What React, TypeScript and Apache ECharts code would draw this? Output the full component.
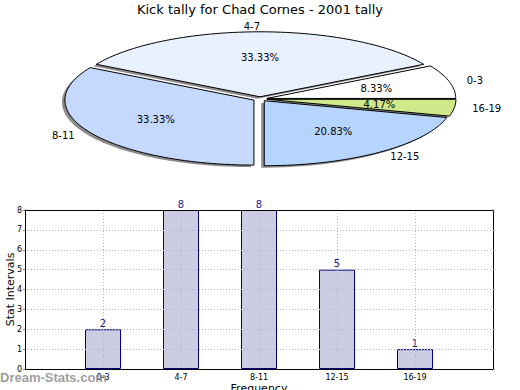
import React, { useEffect, useRef } from "react";
import * as echarts from "echarts";

const titleText = "Kick tally for Chad Cornes - 2001 tally";
const categories = ["0-3", "4-7", "8-11", "12-15", "16-19"];
const counts = [2, 8, 8, 5, 1];
const pieColors = ["#ffffff", "#eaf1fe", "#c5d8fe", "#b5d5fe", "#cfe98a"];
const yTicks = [0, 1, 2, 3, 4, 5, 6, 7, 8];
const xAxisName = "Frequency";
const yAxisName = "Stat Intervals";
const watermark = "Dream-Stats.com";

const FONT = "DejaVu Sans";
const PIE = { cx: 260, cy: 99, rx: 189, ry: 65, ex: 7, ey: 2.2, lx: 18, ly: 5 };

function sliceGeom(i: number) {
  const total = counts.reduce((a, b) => a + b, 0);
  let acc = 0;
  for (let k = 0; k < i; k++) acc += counts[k];
  const start = (acc / total) * Math.PI * 2;
  const end = ((acc + counts[i]) / total) * Math.PI * 2;
  const mid = (start + end) / 2;
  const ox = PIE.cx + PIE.ex * Math.cos(mid);
  const oy = PIE.cy - PIE.ey * Math.sin(mid);
  const pts: number[][] = [[ox, oy]];
  const n = Math.max(8, Math.ceil(((end - start) / (Math.PI * 2)) * 200));
  for (let s = 0; s <= n; s++) {
    const t = start + ((end - start) * s) / n;
    pts.push([ox + PIE.rx * Math.cos(t), oy - PIE.ry * Math.sin(t)]);
  }
  return { start, end, mid, ox, oy, pts, pct: (counts[i] / total) * 100 };
}

const gridLine = { color: "#b8b8b8", type: [1, 2], width: 1 };

export default function App() {
  const ref = useRef<HTMLDivElement>(null);
  useEffect(() => {
    if (!ref.current) return;
    const chart = echarts.init(ref.current, undefined, { renderer: "svg" });
    const option: any = {
      animation: false,
      textStyle: { fontFamily: FONT },
      title: {
        text: titleText,
        left: "center",
        top: 3,
        padding: 0,
        textStyle: { fontFamily: FONT, fontSize: 13, fontWeight: "normal", color: "#000" },
      },
      grid: {
        left: 25,
        right: 27,
        top: 210,
        bottom: 21,
        containLabel: false,
        outerBoundsMode: "none",
        show: false,
      },
      xAxis: [
        {
          type: "value",
          min: 0,
          max: categories.length + 1,
          interval: 1,
          z: 3,
          name: xAxisName,
          nameLocation: "middle",
          nameGap: 14,
          nameMoveOverlap: false,
          nameTextStyle: { fontFamily: FONT, fontSize: 11, color: "#000" },
          axisLine: { show: true, lineStyle: { color: "#000", width: 1 } },
          axisTick: { show: false },
          axisLabel: {
            fontSize: 8,
            color: "#000",
            margin: 4,
            formatter: (v: number) => categories[v - 1] ?? "",
          },
          splitLine: { show: true, showMinLine: false, showMaxLine: false, lineStyle: gridLine },
        },
        {
          type: "value",
          position: "top",
          min: 0,
          max: categories.length + 1,
          interval: 1,
          z: 4,
          axisLine: { show: true, onZero: false, lineStyle: { color: "#000", width: 1 } },
          axisTick: { show: false },
          axisLabel: { show: false },
          splitLine: { show: false },
        },
      ],
      yAxis: [
        {
          type: "value",
          min: yTicks[0],
          max: yTicks[yTicks.length - 1],
          interval: 1,
          z: 3,
          name: yAxisName,
          nameLocation: "middle",
          nameGap: 9,
          nameMoveOverlap: false,
          nameTextStyle: { fontFamily: FONT, fontSize: 11, color: "#000" },
          axisLine: { show: true, onZero: false, lineStyle: { color: "#000", width: 1 } },
          axisTick: { show: true, length: 2, lineStyle: { color: "#888" } },
          axisLabel: { fontSize: 8, color: "#000", margin: 3 },
          splitLine: { show: true, showMinLine: false, showMaxLine: false, lineStyle: gridLine },
        },
        {
          type: "value",
          position: "right",
          min: yTicks[0],
          max: yTicks[yTicks.length - 1],
          interval: 1,
          z: 4,
          axisLine: { show: true, onZero: false, lineStyle: { color: "#000", width: 1 } },
          axisTick: { show: true, length: 2, lineStyle: { color: "#aaa" } },
          axisLabel: { show: false },
          splitLine: { show: false },
        },
      ],
      graphic: [
        {
          type: "text",
          left: 0,
          top: 371,
          z: 10,
          style: {
            text: watermark,
            fontFamily: "Liberation Sans",
            fontWeight: "bold",
            fontSize: 13,
            fill: "rgba(140,140,140,0.85)",
          },
        },
      ],
      series: [
        {
          type: "bar",
          xAxisIndex: 0,
          yAxisIndex: 0,
          data: counts.map((c, i) => [i + 1, c]),
          barWidth: 36,
          itemStyle: { color: "#ccccE2", borderColor: "#000080", borderWidth: 1 },
          label: {
            show: true,
            position: "top",
            distance: 1,
            fontSize: 10,
            color: "#1a1a8a",
            fontFamily: FONT,
          },
        },
        {
          type: "custom",
          coordinateSystem: "none",
          z: 1,
          data: counts,
          renderItem: (params: any) => {
            const g = sliceGeom(params.dataIndex);
            return {
              type: "polygon",
              x: -3,
              y: 2,
              shape: { points: g.pts },
              style: { fill: "#8c8c8c", stroke: "none" },
            };
          },
        },
        {
          type: "custom",
          coordinateSystem: "none",
          z: 2,
          data: counts,
          renderItem: (params: any) => {
            const i = params.dataIndex;
            const g = sliceGeom(i);
            const c = Math.cos(g.mid);
            const s = Math.sin(g.mid);
            return {
              type: "group",
              children: [
                {
                  type: "polygon",
                  z2: 1,
                  shape: { points: g.pts },
                  style: { fill: pieColors[i], stroke: "#000", lineWidth: 1, lineJoin: "miter" },
                },
                {
                  type: "text",
                  z2: 20,
                  x: g.ox + PIE.rx * 0.6 * c,
                  y: g.oy - PIE.ry * 0.6 * s,
                  style: {
                    text: g.pct.toFixed(2) + "%",
                    fontFamily: FONT,
                    fontSize: 10,
                    fill: "#000",
                    align: "center",
                    verticalAlign: "middle",
                  },
                },
                {
                  type: "text",
                  z2: 20,
                  x: g.ox + (PIE.rx + PIE.lx) * c,
                  y: g.oy - (PIE.ry + PIE.ly) * s,
                  style: {
                    text: categories[i],
                    fontFamily: FONT,
                    fontSize: 10,
                    fill: "#000",
                    align: c > 0.01 ? "left" : "right",
                    verticalAlign: "middle",
                  },
                },
              ],
            };
          },
        },
      ],
    };
    chart.setOption(option);
    return () => chart.dispose();
  }, []);
  return (
    <div
      ref={ref}
      style={{ position: "fixed", left: 0, top: 0, width: 520, height: 390, background: "#fff" }}
    />
  );
}
